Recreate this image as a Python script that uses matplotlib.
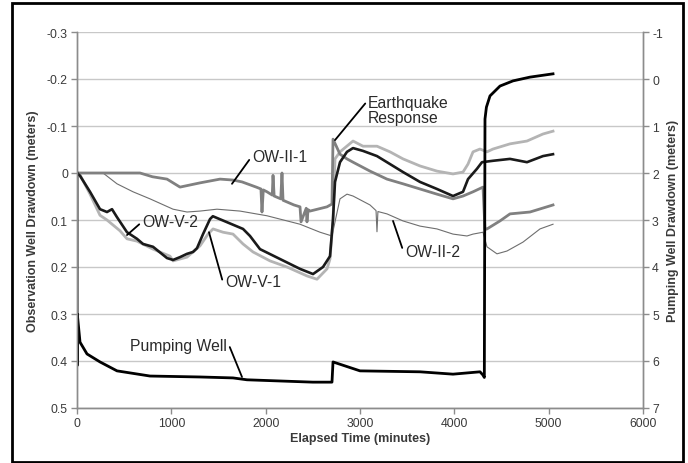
import matplotlib
matplotlib.use("Agg")
import matplotlib.pyplot as plt
from matplotlib.patches import Rectangle

plt.rcParams['font.family'] = ['Liberation Sans', 'DejaVu Sans']
plt.rcParams['axes.unicode_minus'] = False

# observation wells (left axis, meters) - elapsed minutes / drawdown
ow_ii_1_t = [0, 668, 800, 954, 1092, 1304, 1516, 1654, 1750, 1900, 1950, 1961, 1975, 2014,
             2070, 2078, 2090, 2160, 2173, 2184, 2300, 2364, 2375, 2430, 2438, 2450, 2470,
             2650, 2703, 2714, 2788, 2862, 2926, 3106, 3286, 3456, 3636, 3816, 3986, 4092,
             4198, 4304, 4325, 4346, 4484, 4590, 4802, 5014, 5046]
ow_ii_1_v = [0, 0, 0.008, 0.013, 0.030, 0.021, 0.013, 0.015, 0.019, 0.030, 0.034, 0.083, 0.036, 0.040,
             0.047, 0.005, 0.049, 0.055, 0.000, 0.058, 0.068, 0.072, 0.104, 0.075, 0.104, 0.078, 0.081,
             0.072, 0.066, -0.072, -0.040, -0.030, -0.023, -0.004, 0.013, 0.023, 0.034, 0.045, 0.055, 0.049,
             0.040, 0.030, 0.120, 0.119, 0.102, 0.087, 0.083, 0.070, 0.068]

ow_ii_2_t = [0, 276, 424, 594, 774, 1018, 1166, 1304, 1484, 1728, 2014, 2364, 2576, 2703,
             2750, 2788, 2862, 2926, 3106, 3170, 3180, 3190, 3286, 3456, 3636, 3816, 3986,
             4134, 4198, 4304, 4346, 4452, 4558, 4728, 4908, 5046]
ow_ii_2_v = [0, 0, 0.023, 0.040, 0.055, 0.077, 0.083, 0.081, 0.077, 0.081, 0.091, 0.109, 0.126, 0.134,
             0.090, 0.055, 0.045, 0.049, 0.068, 0.080, 0.125, 0.082, 0.087, 0.102, 0.113, 0.119, 0.130,
             0.134, 0.130, 0.126, 0.157, 0.172, 0.166, 0.147, 0.119, 0.109]

ow_v_1_t = [0, 32, 138, 244, 318, 456, 530, 636, 806, 986, 1018, 1166, 1304, 1389, 1442,
            1548, 1654, 1760, 1866, 2046, 2226, 2438, 2544, 2650, 2682, 2714, 2735, 2788,
            2926, 3032, 3180, 3318, 3456, 3636, 3816, 3986, 4092, 4145, 4198, 4272, 4346,
            4410, 4590, 4770, 4940, 5046]
ow_v_1_v = [0, 0.004, 0.045, 0.090, 0.100, 0.123, 0.140, 0.145, 0.162, 0.177, 0.187, 0.179, 0.155, 0.130, 0.119,
            0.126, 0.130, 0.151, 0.168, 0.187, 0.200, 0.219, 0.226, 0.204, 0.183, 0.100, -0.030, -0.045,
            -0.068, -0.057, -0.057, -0.045, -0.030, -0.015, -0.004, 0.002, -0.002, -0.019, -0.045, -0.051, -0.045,
            -0.051, -0.062, -0.068, -0.083, -0.089]

ow_v_2_t = [0, 32, 138, 244, 318, 371, 424, 530, 636, 700, 806, 954, 1018, 1092, 1166,
            1230, 1272, 1336, 1410, 1440, 1760, 1834, 1940, 2152, 2364, 2502, 2608, 2682,
            2714, 2735, 2788, 2862, 2926, 3032, 3180, 3318, 3456, 3636, 3816, 3986, 4092,
            4145, 4240, 4293, 4410, 4590, 4770, 4940, 5046]
ow_v_2_v = [0, 0.006, 0.040, 0.077, 0.083, 0.077, 0.094, 0.126, 0.140, 0.151, 0.157, 0.181, 0.185, 0.179, 0.172,
            0.168, 0.160, 0.130, 0.098, 0.092, 0.119, 0.134, 0.162, 0.183, 0.204, 0.215, 0.200, 0.177,
            0.098, 0.019, -0.023, -0.045, -0.053, -0.047, -0.036, -0.019, -0.002, 0.019, 0.034, 0.049, 0.040,
            0.013, -0.009, -0.023, -0.026, -0.030, -0.023, -0.036, -0.040]

# pumping well (right axis, meters)
pw_t = [0, 1, 3, 32, 106, 244, 424, 774, 1304, 1654, 1802, 2500, 2703, 2714, 3000,
        3636, 3986, 4272, 4304, 4318, 4325, 4340, 4378, 4484, 4622, 4802, 5046]
pw_v = [2.0, 6.1, 5.0, 5.6, 5.85, 6.02, 6.21, 6.32, 6.34, 6.36, 6.40, 6.45, 6.45, 6.02, 6.21,
        6.23, 6.28, 6.23, 6.30, 6.35, 0.85, 0.60, 0.36, 0.15, 0.04, -0.04, -0.11]

obs_ticks = [-0.3, -0.2, -0.1, 0, 0.1, 0.2, 0.3, 0.4, 0.5]
obs_labels = ['-0.3', '-0.2', '-0.1', '0', '0.1', '0.2', '0.3', '0.4', '0.5']
pw_ticks = [-1, 0, 1, 2, 3, 4, 5, 6, 7]
time_ticks = [0, 1000, 2000, 3000, 4000, 5000, 6000]

axis_gray = '#8c8c8c'
grid_gray = '#c8c8c8'
text_gray = '#3a3a3a'

fig = plt.figure(figsize=(6.88, 4.64), dpi=100)
fig.patches.append(Rectangle((12 / 688, 1 - 463 / 464), 671 / 688, 459 / 464,
                             transform=fig.transFigure, fill=False,
                             edgecolor='black', linewidth=2))

ax = fig.add_axes([77 / 688, 1 - 409 / 464, 566 / 688, 376 / 464])
ax2 = ax.twinx()

ax.plot(ow_ii_2_t, ow_ii_2_v, color='#6e6e6e', lw=0.8)
ax.plot(ow_v_1_t, ow_v_1_v, color='#b4b4b4', lw=2.0)
ax.plot(ow_ii_1_t, ow_ii_1_v, color='#808080', lw=2.0)
ax.plot(ow_v_2_t, ow_v_2_v, color='#1a1a1a', lw=1.9)
ax2.plot(pw_t, pw_v, color='black', lw=2.0)

ax.set_xlim(0, 6000)
ax.set_ylim(0.5, -0.3)
ax2.set_ylim(7, -1)
ax.set_xticks(time_ticks)
ax.set_yticks(obs_ticks)
ax.set_yticklabels(obs_labels)
ax2.set_yticks(pw_ticks)

ax.grid(axis='y', color=grid_gray, lw=1.0)
ax.set_axisbelow(True)
for a in (ax, ax2):
    a.spines['top'].set_visible(False)
    for s in ('left', 'right', 'bottom'):
        a.spines[s].set_color(axis_gray)
        a.spines[s].set_linewidth(1.0)
    a.tick_params(colors=axis_gray, labelcolor=text_gray, labelsize=8.8, length=4, width=1, pad=2.5)

ax.set_xlabel('Elapsed Time (minutes)', fontsize=9, fontweight='bold', color=text_gray)
ax.set_ylabel('Observation Well Drawdown (meters)', fontsize=9, fontweight='bold', color=text_gray)
ax2.set_ylabel('Pumping Well Drawdown (meters)', fontsize=9, fontweight='bold', color=text_gray)
ax.xaxis.set_label_coords(0.5, -0.064)
ax.yaxis.set_label_coords(-0.067, 0.5)
ax2.yaxis.set_label_coords(1.042, 0.5)

arrow = dict(arrowstyle='-', color='black', lw=1.3, shrinkA=0, shrinkB=0)
lab = dict(fontsize=11.3, color='#2a2a2a')
ax.annotate('OW-II-1', xy=(1643, 0.023), xytext=(1855, -0.036), ha='left', va='center',
            arrowprops=dict(arrow, relpos=(0, 0.5)), **lab)
ax.annotate('Earthquake\nResponse', xy=(2735, -0.070), xytext=(3085, -0.133), ha='left', va='center',
            linespacing=1.0, arrowprops=dict(arrow, relpos=(-0.02, 0.78)), **lab)
ax.annotate('OW-V-2', xy=(530, 0.132), xytext=(689, 0.104), ha='left', va='center',
            arrowprops=dict(arrow, relpos=(0, 0.5)), **lab)
ax.annotate('OW-V-1', xy=(1399, 0.126), xytext=(1569, 0.230), ha='left', va='center',
            arrowprops=dict(arrow, relpos=(-0.05, 0.6)), **lab)
ax.annotate('OW-II-2', xy=(3350, 0.102), xytext=(3477, 0.168), ha='left', va='center',
            arrowprops=dict(arrow, relpos=(-0.03, 0.55)), **lab)
ax.annotate('Pumping Well', xy=(1749, 0.434), xytext=(1590, 0.366), ha='right', va='center',
            arrowprops=dict(arrow, relpos=(1.02, 0.5)), **lab)

fig.savefig('out.png', dpi=100)
